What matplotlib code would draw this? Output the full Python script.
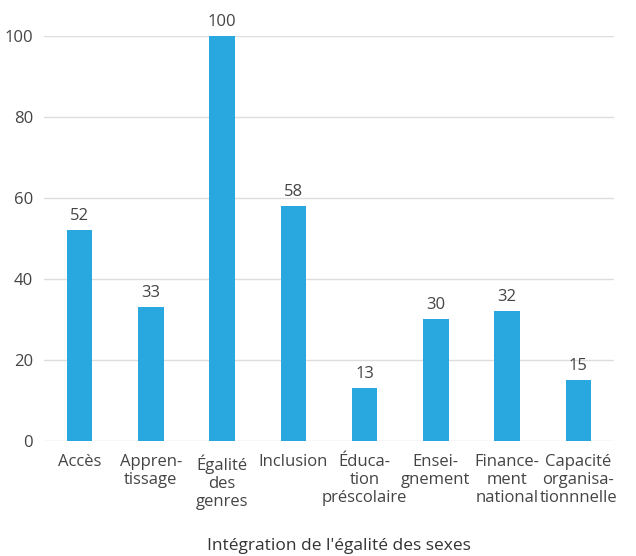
import matplotlib.pyplot as plt

plt.rcParams['font.family'] = ['Open Sans', 'DejaVu Sans']

categories = ["Accès", "Appren-\ntissage", "Égalité\ndes\ngenres", "Inclusion",
              "Éduca-\ntion\npréscolaire", "Ensei-\ngnement", "Finance-\nment\nnational",
              "Capacité\norganisa-\ntionnnelle"]
values = [52, 33, 100, 58, 13, 30, 32, 15]
yticks = [0, 20, 40, 60, 80, 100]

fig = plt.figure(figsize=(6.36, 5.56), dpi=100)
ax = fig.add_axes([0.0692, 0.2077, 0.8962, 0.7275])

x = range(len(categories))
bars = ax.bar(x, values, width=0.36, color='#29A8E0', zorder=3)
for rect, v in zip(bars, values):
    ax.annotate(str(v), (rect.get_x() + rect.get_width() / 2, v),
                xytext=(0, 4.5), textcoords='offset points', ha='center', va='bottom',
                fontsize=12, color='#444444', annotation_clip=False)

ax.set_xlim(-0.5, len(categories) - 0.5)
ax.set_ylim(0, 100)
ax.set_yticks(yticks)
ax.set_xticks(list(x))
ax.set_xticklabels(categories, fontsize=12, color='#444444', linespacing=1.15)
ax.tick_params(axis='y', labelsize=12, labelcolor='#444444', length=0, pad=8)
ax.tick_params(axis='x', length=0, pad=10)
ax.grid(axis='y', color='#dddddd', linewidth=1, zorder=0)
for s in ax.spines.values():
    s.set_visible(False)

fig.text(0.533, 0.004, "Intégration de l'égalité des sexes", ha='center', va='bottom',
         fontsize=12.5, color='#333333')

fig.savefig('out.png', dpi=100)
